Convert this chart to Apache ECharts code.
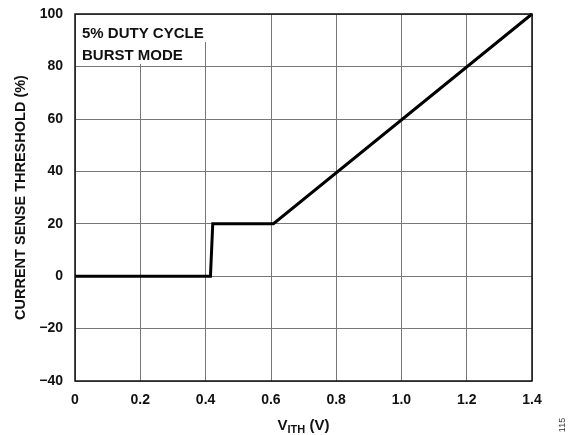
<!DOCTYPE html>
<html>
<head>
<meta charset="utf-8">
<script src="https://cdn.jsdelivr.net/npm/echarts@6/dist/echarts.min.js"></script>
<style>
  html, body { margin: 0; padding: 0; background: #fff; }
  #chart { width: 579px; height: 435px; }
</style>
</head>
<body>
<div id="chart"></div>
<script>
// Current sense threshold vs. ITH voltage (burst mode, 5% duty cycle)
const vith = [0, 0.415, 0.422, 0.608, 1.4];
const threshold = [0, 0, 20, 20, 100];
const xTicks = ['0', '0.2', '0.4', '0.6', '0.8', '1.0', '1.2', '1.4'];
const yTicks = ['\u221240', '\u221220', '0', '20', '40', '60', '80', '100'];
const noteLines = ['5% DUTY CYCLE', 'BURST MODE'];

const FONT = 'Liberation Sans, Arial, sans-serif';
const INK = '#111';
const chart = echarts.init(document.getElementById('chart'), null, { renderer: 'canvas' });

const pairs = vith.map((v, i) => [v, threshold[i]]);

chart.setOption({
  animation: false,
  backgroundColor: '#fff',
  grid: { left: 75, right: 47, top: 14, bottom: 54, show: false, containLabel: false, outerBoundsMode: 'none' },
  xAxis: {
    type: 'value', min: 0, max: 1.4, interval: 0.2,
    axisLine: { show: false },
    axisTick: { show: false },
    splitLine: { lineStyle: { color: '#777', width: 1 } },
    axisLabel: {
      margin: 12, color: INK, fontFamily: FONT, fontWeight: 'bold', fontSize: 14,
      formatter: (v) => xTicks[Math.round(v / 0.2)]
    },
    name: '{v|V}{s|ITH}{v| (V)}',
    nameLocation: 'middle', nameGap: 36,
    nameTextStyle: {
      rich: {
        v: { fontFamily: FONT, fontWeight: 'bold', fontSize: 15, lineHeight: 18, color: INK },
        s: { fontFamily: FONT, fontWeight: 'bold', fontSize: 11, lineHeight: 13, color: INK, verticalAlign: 'bottom' }
      }
    }
  },
  yAxis: {
    type: 'value', min: -40, max: 100, interval: 20,
    axisLine: { show: false },
    axisTick: { show: false },
    splitLine: { lineStyle: { color: '#777', width: 1 } },
    axisLabel: {
      margin: 12, padding: [3, 0, 0, 0], color: INK, fontFamily: FONT, fontWeight: 'bold', fontSize: 14,
      formatter: (v) => yTicks[Math.round((v + 40) / 20)]
    },
    name: 'CURRENT SENSE THRESHOLD (%)',
    nameLocation: 'middle', nameGap: 44, nameRotate: 90,
    nameTextStyle: { fontFamily: FONT, fontWeight: 'bold', fontSize: 14.5, color: INK }
  },
  series: [
    {
      type: 'line', data: pairs, symbol: 'none', z: 5,
      lineStyle: { color: '#000', width: 3, join: 'miter' }
    }
  ],
  graphic: [
    // white panel behind the annotation
    { type: 'rect', z: 10, shape: { x: 76, y: 15, width: 132, height: 27 }, style: { fill: '#fff' } },
    { type: 'rect', z: 10, shape: { x: 76, y: 42, width: 124, height: 22 }, style: { fill: '#fff' } },
    { type: 'text', z: 11, left: 82, top: 26, style: { text: noteLines[0], fontFamily: FONT, fontWeight: 'bold', fontSize: 15, fill: INK } },
    { type: 'text', z: 11, left: 82, top: 48, style: { text: noteLines[1], fontFamily: FONT, fontWeight: 'bold', fontSize: 15, fill: INK } },
    // plot frame
    { type: 'rect', z: 12, shape: { x: 75, y: 14, width: 457, height: 367 }, style: { fill: 'none', stroke: INK, lineWidth: 1.5 } },
    // figure number
    { type: 'text', z: 11, x: 563, y: 425, rotation: Math.PI / 2, style: { text: '115', fontFamily: FONT, fontSize: 9, fill: '#333', align: 'center', verticalAlign: 'middle' } }
  ]
});
</script>
</body>
</html>
